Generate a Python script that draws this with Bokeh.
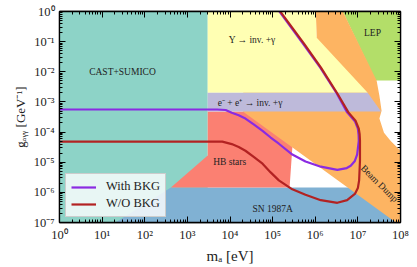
from bokeh.plotting import figure
from bokeh.models import LogAxis, CustomJSTickFormatter, FixedTicker, Range1d
from bokeh.core.properties import value
from bokeh.embed import file_html
from bokeh.resources import INLINE

# ---------------- data ----------------
# excluded regions: axion mass [eV], coupling [GeV^-1]
cast_ma = [1, 3e3, 3e3, 1]
cast_g = [2, 2, 1e-7, 1e-7]

sn_ma = [20.5, 1e8, 1e8, 4.1e2]
sn_g = [1e-7, 1e-7, 1.46e-6, 1.46e-6]

lep_ma = [3.5e6, 1e8, 1e8, 2.6e7]
lep_g = [2, 2, 5.1e-3, 5.1e-3]

hb_ma = [3e3, 2.9e5, 2.9e5, 2.5e5, 4.1e2, 3e3]
hb_g = [4.8e-4, 4.8e-4, 3.0e-5, 1.46e-6, 1.46e-6, 1.66e-5]

bd_ma = [1.02e6, 3.5e6, 2.75e7, 3.2e7, 3.6e7, 3.2e7, 4.1e7, 5.9e7, 1e8, 1e8, 7.8e7, 2.0e4, 2.0e4, 1.07e6]
bd_g = [2, 2, 5.1e-3, 1.6e-3, 5.1e-4, 2.8e-4, 9.5e-5, 5.1e-5, 2.4e-5, 1e-7, 1e-7, 4.8e-4, 2e-3, 0.138]

ups_ma = [3e3, 1.02e6, 1.07e6, 1.7e7, 3e3]
ups_g = [2, 2, 0.138, 2.0e-3, 2.0e-3]

ee_ma = [3e3, 1.7e7, 3.5e7, 3e3]
ee_g = [2.0e-3, 2.0e-3, 4.8e-4, 4.8e-4]

# sensitivity curves
ma_with = [1, 5e3, 7.9e3, 1.1e4, 1.6e4, 2.3e4, 3.6e4, 5.8e4, 9.0e4, 1.4e5, 2.9e5, 5.9e5,
           1.35e6, 3.3e6, 5.5e6, 6.8e6, 8.5e6, 9.6e6, 1.05e7, 1.04e7, 1.0e7, 8.5e6, 5.6e6,
           3.2e6, 1.3e6, 5.1e5, 1.48e5, 9.0e4]
g_with = [5.6e-4, 5.6e-4, 5.4e-4, 4.4e-4, 3.6e-4, 2.8e-4, 1.8e-4, 1.1e-4, 6.6e-5, 4.1e-5, 1.8e-5, 1.05e-5,
          7.1e-6, 5.6e-6, 6.4e-6, 7.6e-6, 1.1e-5, 1.8e-5, 5.1e-5, 8.0e-5, 1.3e-4, 2.3e-4, 4.5e-4,
          1.9e-3, 1.4e-2, 8.7e-2, 0.95, 2.5]

ma_wo = [1, 6.6e3, 1.1e4, 1.6e4, 2.3e4, 3.6e4, 5.8e4, 9.0e4, 1.4e5, 2.9e5, 5.9e5, 1.35e6,
         3.3e6, 5.6e6, 8.5e6, 1.0e7, 1.07e7, 1.12e7, 1.12e7, 1.1e7, 1.05e7, 8.8e6, 6.0e6,
         3.3e6, 1.35e6, 5.4e5, 1.55e5, 9.5e4]
g_wo = [4.8e-5, 4.8e-5, 4.0e-5, 3.2e-5, 2.4e-5, 1.5e-5, 8.9e-6, 4.6e-6, 2.5e-6, 1.26e-6, 8.3e-7, 5.5e-7,
        4.5e-7, 5.5e-7, 8.9e-7, 1.4e-6, 2.5e-6, 1.12e-5, 5.2e-5, 8.5e-5, 1.3e-4, 2.4e-4, 4.5e-4,
        1.9e-3, 1.4e-2, 8.7e-2, 0.95, 2.5]

x_major = [10.0 ** k for k in range(0, 9)]
y_major = [10.0 ** k for k in range(-7, 1)]

# ---------------- figure ----------------
SERIF = "Liberation Serif"

def minors(majors):
    return [m * t for t in majors for m in range(2, 10)]

p = figure(x_axis_type="log", y_axis_type="log",
           x_range=Range1d(1, 1e8), y_range=Range1d(1e-7, 1),
           frame_width=341, frame_height=211,
           min_border_left=59, min_border_right=17, min_border_top=11, min_border_bottom=45,
           output_backend="svg", toolbar_location=None,
           background_fill_color="white", border_fill_color="white")
p.grid.visible = False
p.outline_line_color = "black"
p.outline_line_width = 1.3

fmt = CustomJSTickFormatter(code="""
const sup = {'0':'\u2070','1':'\u00b9','2':'\u00b2','3':'\u00b3','4':'\u2074','5':'\u2075','6':'\u2076','7':'\u2077','8':'\u2078','9':'\u2079','-':'\u207b'};
const e = Math.round(Math.log10(tick));
return '10' + String(e).split('').map(c => sup[c]).join('');
""")
blank = CustomJSTickFormatter(code="return '';")

xt = FixedTicker(ticks=x_major, minor_ticks=minors([10.0 ** k for k in range(-1, 9)]))
yt = FixedTicker(ticks=y_major, minor_ticks=minors([10.0 ** k for k in range(-8, 1)]))

def style(ax):
    ax.major_tick_in = 6
    ax.major_tick_out = 0
    ax.minor_tick_in = 3
    ax.minor_tick_out = 0
    ax.major_tick_line_color = "black"
    ax.minor_tick_line_color = "black"
    ax.axis_line_color = "black"
    ax.axis_line_width = 1.3

p.xaxis.ticker = xt
p.yaxis.ticker = yt
p.xaxis.formatter = fmt
p.yaxis.formatter = fmt
for ax in (p.xaxis[0], p.yaxis[0]):
    style(ax)
    ax.major_label_text_font = SERIF
    ax.major_label_text_font_size = "12.5px"
    ax.major_label_text_color = "#222222"
    ax.major_label_standoff = 5
    ax.axis_label_text_font = SERIF
    ax.axis_label_text_font_style = "normal"
    ax.axis_label_text_color = "#222222"
    ax.axis_label_standoff = 3
p.xaxis.axis_label_text_font_size = "15px"
p.yaxis.axis_label_text_font_size = "13px"
p.xaxis.axis_label = "m\u2090 [eV]"
p.yaxis.axis_label = "g\u2090\u1d67\u1d67 [GeV\u207b\u00b9]"

top = LogAxis(ticker=FixedTicker(ticks=x_major, minor_ticks=xt.minor_ticks), formatter=blank,
              major_label_standoff=0)
right = LogAxis(ticker=FixedTicker(ticks=y_major, minor_ticks=yt.minor_ticks), formatter=blank,
                major_label_standoff=0)
style(top)
style(right)
p.add_layout(top, "above")
p.add_layout(right, "right")

# regions (Set3 colours)
p.patch(cast_ma, cast_g, fill_color="#8dd3c7", line_color=None)
p.patch(sn_ma, sn_g, fill_color="#80b1d3", line_color=None)
p.patch(lep_ma, lep_g, fill_color="#b3de69", line_color=None)
p.patch(hb_ma, hb_g, fill_color="#fb8072", line_color=None)
p.patch(bd_ma, bd_g, fill_color="#fdb462", line_color=None)
p.patch(ups_ma, ups_g, fill_color="#ffffb3", line_color=None)
p.patch(ee_ma, ee_g, fill_color="#bebada", line_color=None)

# region labels
p.text(x=[30, 3.3e4, 2.95e4, 9.8e3, 1.0e5, 2.2e7],
       y=[1.02e-2, 0.11, 9.3e-4, 1.0e-5, 2.9e-7, 0.2],
       text=["CAST+SUMICO", "\u03a5 \u2192 inv. +\u03b3", "e\u207b + e\u207a \u2192 inv. +\u03b3",
             "HB stars", "SN 1987A", "LEP"],
       text_font=value(SERIF), text_font_size="9.5px", text_color="#222222",
       text_align="center", text_baseline="middle")
p.text(x=[3.2e7], y=[1.95e-6], text=["Beam Dump"], angle=-0.78,
       text_font=value(SERIF), text_font_size="9.5px", text_color="#222222",
       text_align="center", text_baseline="middle")

# curves
p.line(ma_with, g_with, line_color="#8a2be2", line_width=2.2, legend_label="With BKG")
p.line(ma_wo, g_wo, line_color="#b22222", line_width=2.2, legend_label="W/O BKG")

lg = p.legend[0]
lg.location = (6, 5)
lg.label_text_font = SERIF
lg.label_text_font_size = "12.5px"
lg.label_text_color = "#222222"
lg.glyph_width = 25
lg.glyph_height = 14
lg.label_height = 14
lg.label_standoff = 10
lg.spacing = 2
lg.padding = 5
lg.margin = 0
lg.background_fill_color = "white"
lg.background_fill_alpha = 0.8
lg.border_line_color = "#cccccc"
lg.border_line_alpha = 1.0

open("out.html", "w").write(file_html(p, INLINE))
